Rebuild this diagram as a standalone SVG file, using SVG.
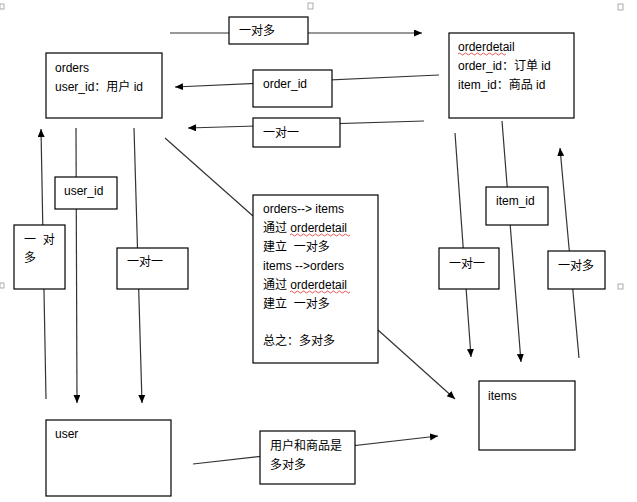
<svg xmlns="http://www.w3.org/2000/svg" width="637" height="502" viewBox="0 0 637 502">
<style>
.box{fill:#fff;stroke:#000;stroke-width:1.2}
.lbl{fill:#fff;stroke:#000;stroke-width:1.2}
.t{font-family:"Liberation Sans","Noto Sans CJK SC",sans-serif;font-size:12px;fill:#000}
.c{stroke:#333;stroke-width:1.2;fill:none}
.h{fill:#fff;stroke:#999;stroke-width:0.8}
.wave{fill:none;stroke:#e03030;stroke-width:0.8}
</style>
<defs>
<marker id="ar" markerUnits="userSpaceOnUse" markerWidth="9" markerHeight="8" refX="8" refY="3.5" orient="auto">
<path d="M0,0 L8,3.5 L0,7 z" fill="#000"/>
</marker>
</defs>
<rect width="637" height="502" fill="#fff"/>
<g id="handles">
<rect class="h" x="0" y="4" width="4" height="5"/>
<rect class="h" x="308" y="3" width="5" height="6"/>
<rect class="h" x="618" y="4" width="5" height="6"/>
<rect class="h" x="0" y="283" width="4" height="5"/>
<rect class="h" x="618" y="284" width="5" height="5"/>
</g>
<g id="connectors">
<line class="c" x1="170" y1="33" x2="422" y2="33" marker-end="url(#ar)"/>
<line class="c" x1="439" y1="75" x2="175" y2="87" marker-end="url(#ar)"/>
<line class="c" x1="424" y1="121" x2="188" y2="128" marker-end="url(#ar)"/>
<line class="c" x1="46" y1="399" x2="41" y2="129" marker-end="url(#ar)"/>
<line class="c" x1="76" y1="128" x2="77" y2="403" marker-end="url(#ar)"/>
<line class="c" x1="134" y1="128" x2="142" y2="403" marker-end="url(#ar)"/>
<line class="c" x1="165" y1="138" x2="253" y2="216"/>
<line class="c" x1="378" y1="330" x2="455" y2="399" marker-end="url(#ar)"/>
<line class="c" x1="455" y1="133" x2="471" y2="357" marker-end="url(#ar)"/>
<line class="c" x1="502" y1="121" x2="521" y2="362" marker-end="url(#ar)"/>
<line class="c" x1="579" y1="358" x2="560" y2="148" marker-end="url(#ar)"/>
<line class="c" x1="193" y1="464" x2="438" y2="436" marker-end="url(#ar)"/>
</g>
<g id="orders">
<rect class="box" x="46" y="53" width="116" height="65"/>
<text class="t" x="55" y="72">orders</text>
<text class="t" x="55" y="91">user_id：用户 id</text>
</g>
<g id="orderdetail">
<rect class="box" x="449" y="33" width="125" height="85"/>
<text class="t" x="458" y="51">orderdetail</text>
<path class="wave" d="M458,54 q1.5,-2 3,0 t3,0 t3,0 t3,0 t3,0 t3,0 t3,0 t3,0 t3,0 t3,0 t3,0 t3,0 t3,0 t3,0 t3,0 t3,0"/>
<text class="t" x="458" y="70">order_id：订单 id</text>
<text class="t" x="458" y="89">item_id：商品 id</text>
</g>
<g id="user">
<rect class="box" x="46" y="420" width="125" height="76"/>
<text class="t" x="55" y="438">user</text>
</g>
<g id="items">
<rect class="box" x="479" y="381" width="96" height="69"/>
<text class="t" x="488" y="400">items</text>
</g>
<g id="note">
<rect class="box" x="253" y="195" width="125" height="168"/>
<text class="t" x="263" y="213">orders--&gt; items</text>
<text class="t" x="263" y="232">通过 orderdetail</text>
<path class="wave" d="M290,235 q1.5,-2 3,0 t3,0 t3,0 t3,0 t3,0 t3,0 t3,0 t3,0 t3,0 t3,0 t3,0 t3,0 t3,0 t3,0 t3,0 t3,0 t3,0 t3,0 t3,0 t3,0"/>
<text class="t" x="263" y="251">建立&#160;&#160;一对多</text>
<text class="t" x="263" y="270">items --&gt;orders</text>
<text class="t" x="263" y="289">通过 orderdetail</text>
<path class="wave" d="M290,292 q1.5,-2 3,0 t3,0 t3,0 t3,0 t3,0 t3,0 t3,0 t3,0 t3,0 t3,0 t3,0 t3,0 t3,0 t3,0 t3,0 t3,0 t3,0 t3,0 t3,0 t3,0"/>
<text class="t" x="263" y="308">建立&#160;&#160;一对多</text>
<text class="t" x="263" y="345">总之：多对多</text>
</g>
<g id="label-top">
<rect class="lbl" x="229" y="17" width="79" height="27"/>
<text class="t" x="239" y="35">一对多</text>
</g>
<g id="label-order_id">
<rect class="lbl" x="253" y="70" width="79" height="37"/>
<text class="t" x="263" y="88">order_id</text>
</g>
<g id="label-one-one-top">
<rect class="lbl" x="253" y="118" width="87" height="29"/>
<text class="t" x="263" y="137">一对一</text>
</g>
<g id="label-user_id">
<rect class="lbl" x="55" y="177" width="62" height="32"/>
<text class="t" x="64" y="195">user_id</text>
</g>
<g id="label-one-many-left">
<rect class="lbl" x="14" y="225" width="51" height="64"/>
<text class="t" x="24" y="244">一&#160;&#160;对</text>
<text class="t" x="24" y="262">多</text>
</g>
<g id="label-one-one-left">
<rect class="lbl" x="117" y="248" width="71" height="41"/>
<text class="t" x="127" y="266">一对一</text>
</g>
<g id="label-one-one-right">
<rect class="lbl" x="439" y="248" width="60" height="41"/>
<text class="t" x="449" y="268">一对一</text>
</g>
<g id="label-item_id">
<rect class="lbl" x="486" y="187" width="62" height="38"/>
<text class="t" x="496" y="205">item_id</text>
</g>
<g id="label-one-many-right">
<rect class="lbl" x="548" y="251" width="57" height="38"/>
<text class="t" x="558" y="270">一对多</text>
</g>
<g id="label-bottom">
<rect class="lbl" x="260" y="431" width="95" height="53"/>
<text class="t" x="270" y="450">用户和商品是</text>
<text class="t" x="270" y="469">多对多</text>
</g>
</svg>
